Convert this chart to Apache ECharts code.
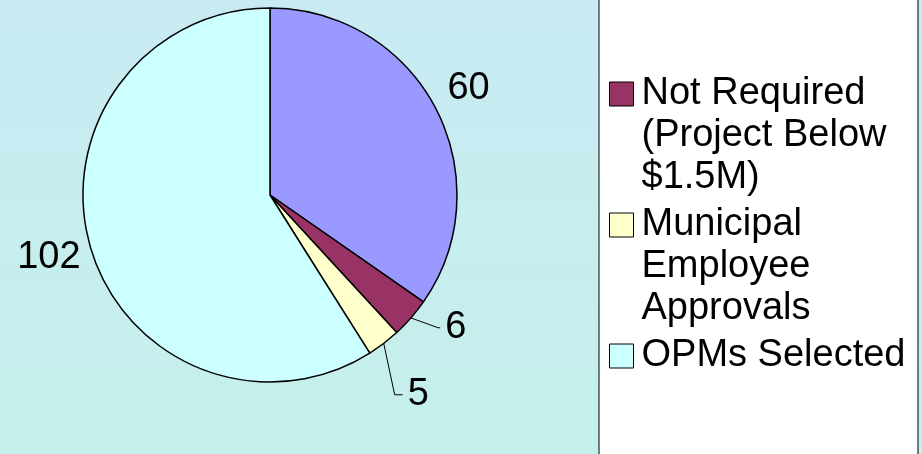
<!doctype html>
<html>
<head>
<meta charset="utf-8">
<title>Pie</title>
<script src="https://cdn.jsdelivr.net/npm/echarts@6/dist/echarts.min.js"></script>
<style>
  html, body { margin: 0; padding: 0; }
  #chart { width: 922px; height: 454px; }
</style>
</head>
<body>
<div id="chart"></div>
<script>
// slices, clockwise from 12 o'clock
var names = ['Other', 'Not Required\n(Project Below\n$1.5M)', 'Municipal\nEmployee\nApprovals', 'OPMs Selected'];
var values = [60, 6, 5, 102];
var colors = ['#9999FF', '#993366', '#FFFFCC', '#CCFFFF'];
var legendNames = names.slice(1);

var lineLen = [20, 15, 18, 5];
var lineLen2 = [0, 2, 8, 0];
var labelShift = [[-11, -11], [0, 0], [0, 0], [0, 9]];

// legend squares: on the first text line for wrapped names, centred otherwise
var iconTop = 'path://M0,0H24V24H0Z M0,108L0,108';
var iconMid = 'path://M0,0H24V24H0Z';

var chart = echarts.init(document.getElementById('chart'));

var pieData = values.map(function (v, i) {
    var hasLine = (i === 1 || i === 2);
    return {
        name: names[i],
        value: v,
        itemStyle: { color: colors[i] },
        labelLine: { show: hasLine, length: lineLen[i], length2: lineLen2[i] }
    };
});

var option = {
    backgroundColor: new echarts.graphic.LinearGradient(0, 0, 0, 1, [
        { offset: 0, color: '#C9EAF3' },
        { offset: 1, color: '#C5F0EB' }
    ]),
    animation: false,
    graphic: [{
        type: 'rect',
        shape: { x: 599, y: -5, width: 319, height: 470 },
        style: { fill: '#ffffff', stroke: '#000000', lineWidth: 1 },
        z: 0
    }],
    legend: {
        orient: 'vertical',
        left: 604,
        top: 68,
        itemWidth: 24,
        itemHeight: 108,
        itemGap: 5,
        itemStyle: { borderColor: '#000', borderWidth: 1 },
        textStyle: { fontFamily: 'Liberation Sans, Arial, sans-serif', fontSize: 38, lineHeight: 42, color: '#000', padding: [0, 0, 0, 3] },
        data: legendNames.map(function (n) {
            var multi = n.indexOf('\n') >= 0;
            return { name: n, icon: multi ? iconTop : iconMid };
        })
    },
    series: [{
        type: 'pie',
        center: [270, 195],
        radius: 187,
        startAngle: 90,
        clockwise: true,
        avoidLabelOverlap: true,
        itemStyle: { borderColor: '#000', borderWidth: 1.5 },
        label: {
            show: true,
            position: 'outside',
            formatter: '{c}',
            fontFamily: 'Liberation Sans, Arial, sans-serif',
            fontSize: 38,
            color: '#000',
            minMargin: 29
        },
        labelLine: {
            lineStyle: { color: '#000', width: 1 }
        },
        labelLayout: function (p) {
            var s = labelShift[p.dataIndex];
            return { dx: s[0], dy: s[1] };
        },
        emphasis: { disabled: true },
        data: pieData
    }]
};

chart.setOption(option);
</script>
</body>
</html>
